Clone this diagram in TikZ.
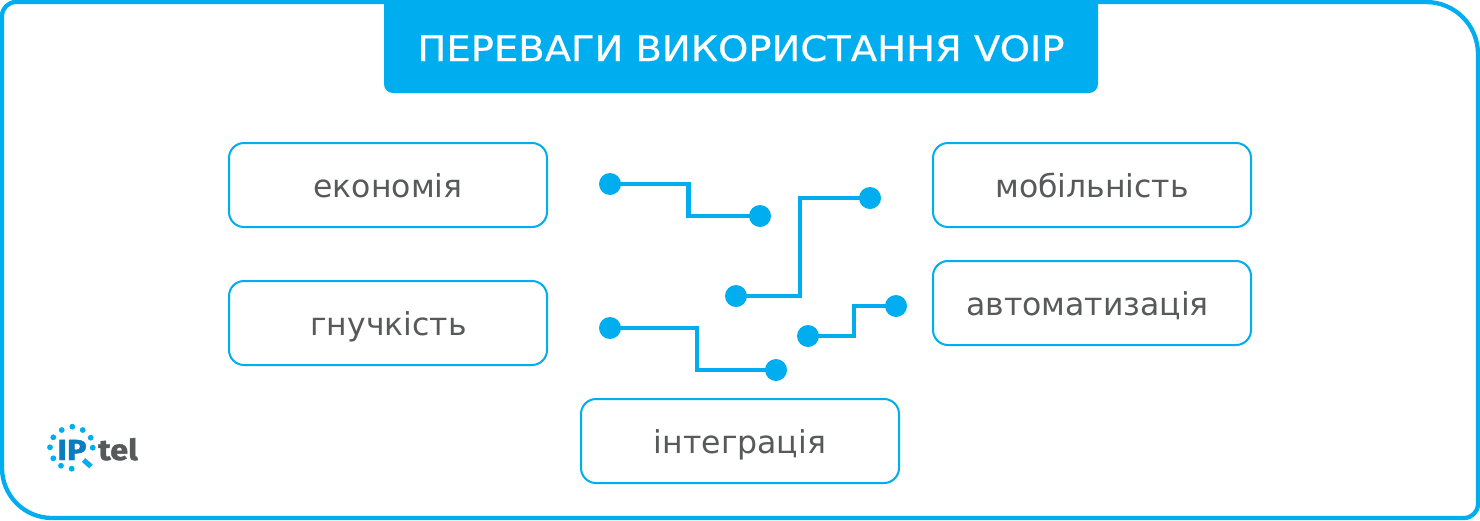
\documentclass[tikz,border=0pt]{standalone}
\usepackage{fontspec}
\setmainfont{DejaVu Sans}
\newfontfamily\titlefont[FakeStretch=1.1,FakeBold=0.5]{DejaVu Sans}
\newfontfamily\logofont[UprightFont={* Bold},FakeBold=1.5,FakeStretch=1.12]{Fira Sans}
\definecolor{sky}{HTML}{00AEEF}
\definecolor{txt}{HTML}{58595B}
\definecolor{logoblue}{HTML}{0A7CC0}
\tikzset{
  itembox/.style={draw=sky,line width=2pt,fill=white,rounded corners=15pt,minimum width=318pt,minimum height=84pt,inner sep=0pt,text=txt,text height=24pt,text depth=0pt,font=\fontsize{31.5pt}{36pt}\selectfont},
  pin/.style={circle,fill=sky,draw=none,minimum size=22pt,inner sep=0pt},
  wire/.style={draw=sky,line width=4.3pt},
  ldot/.style={circle,fill=sky,draw=none,minimum size=5.8pt,inner sep=0pt}
}
\begin{document}
\begin{tikzpicture}[x=1pt,y=-1pt]
\useasboundingbox (0,0) rectangle (1480,520);
\fill[white] (0,0) rectangle (1480,520);
\draw[draw=sky,line width=4.3pt] (16,2) -- (1426,2) arc[start angle=-90,end angle=0,radius=52] -- (1478,504) arc[start angle=0,end angle=90,radius=14] -- (52,518) arc[start angle=90,end angle=180,radius=50] -- (2,16) arc[start angle=180,end angle=270,radius=14] -- cycle;
\fill[sky,rounded corners=9pt] (384,-20) rectangle (1098,93);
\node[text=white,inner sep=0pt,text height=26pt,text depth=0pt,font=\titlefont\fontsize{35pt}{40pt}\selectfont] (title) at (741,48) {ПЕРЕВАГИ ВИКОРИСТАННЯ VOIP};
\node[itembox] (b1) at (388,185) {економія};
\node[itembox] (b2) at (388,323) {\hspace*{1pt}гнучкість};
\node[itembox] (b3) at (740,441) {інтеграція};
\node[itembox] (b4) at (1092,185) {мобільність};
\node[itembox] (b5) at (1092,303) {\hspace*{-9pt}автоматизація};
\node[pin] (p1a) at (610,184) {};
\node[pin] (p1b) at (760,216) {};
\node[pin] (p2a) at (736,296) {};
\node[pin] (p2b) at (870,198) {};
\node[pin] (p3a) at (610,328) {};
\node[pin] (p3b) at (776,370) {};
\node[pin] (p4a) at (808,336) {};
\node[pin] (p4b) at (896,306) {};
\draw[wire] (p1a.center) -- (688.5,184) -- (688.5,216) -- (p1b.center);
\draw[wire] (p2a.center) -- (800,296) -- (800,198) -- (p2b.center);
\draw[wire] (p3a.center) -- (697,328) -- (697,370) -- (p3b.center);
\draw[wire] (p4a.center) -- (854,336) -- (854,306) -- (p4b.center);
\foreach \x/\y/\n in {72.3/426.7/a,61.7/430/b,53.3/437.3/c,50/447.3/d,53.3/458.3/e,61/465.7/f,71.7/468.7/g,82.7/430/h,90.7/437.7/i,92.7/447.7/j}
  \node[ldot] (d\n) at (\x,\y) {};
\draw[sky,line width=5pt] (83.5,460) -- (91,466.5);
\node[anchor=base,inner sep=0pt,text=logoblue,font=\logofont\fontsize{29pt}{29pt}\selectfont] (ip) at (72,460) {IP};
\node[anchor=base,inner sep=0pt,text=txt,font=\logofont\fontsize{29pt}{29pt}\selectfont] (tel) at (118,460) {tel};
\end{tikzpicture}
\end{document}
